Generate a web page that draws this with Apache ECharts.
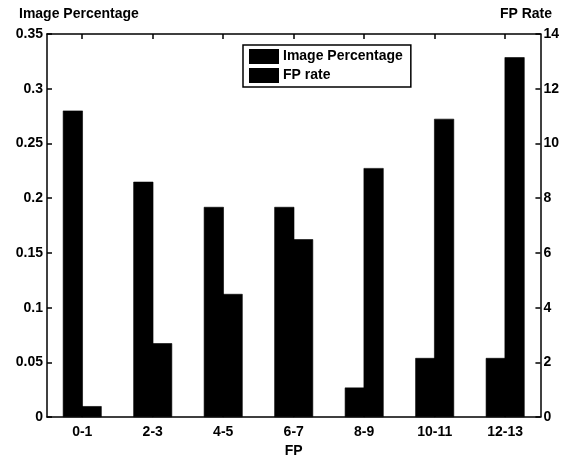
<!DOCTYPE html>
<html>
<head>
<meta charset="utf-8">
<script src="https://cdn.jsdelivr.net/npm/echarts@6/dist/echarts.min.js"></script>
<style>
  html, body { margin: 0; padding: 0; background: #fff; }
  #chart { width: 562px; height: 463px; }
</style>
</head>
<body>
<div id="chart"></div>
<script>
// FP bins along the x axis
const categories = ['0-1', '2-3', '4-5', '6-7', '8-9', '10-11', '12-13'];
// share of images falling in each bin (left axis)
const imagePercentage = [0.28, 0.215, 0.192, 0.192, 0.027, 0.054, 0.054];
// false-positive rate per bin (right axis)
const fpRate = [0.4, 2.7, 4.5, 6.5, 9.1, 10.9, 13.15];

const font = 'Liberation Sans, Arial, Helvetica, sans-serif';
const txt = { color: '#000', fontFamily: font, fontWeight: 'bold', fontSize: 14 };
const line = { onZero: false, lineStyle: { color: '#000', width: 1.5 } };
const tick = { show: true, inside: true, length: 5, lineStyle: { color: '#000', width: 1.5 } };

const chart = echarts.init(document.getElementById('chart'));
chart.setOption({
  animation: false,
  backgroundColor: '#fff',
  textStyle: { fontFamily: font },
  title: [
    { text: 'Image Percentage', left: 14, top: 2, textStyle: txt },
    { text: 'FP Rate', right: 5, top: 2, textStyle: txt }
  ],
  legend: {
    orient: 'vertical',
    left: 243,
    top: 45,
    padding: [4, 8, 4, 6],
    itemGap: 4,
    itemWidth: 28,
    itemHeight: 13,
    icon: 'rect',
    borderColor: '#000',
    borderWidth: 1.5,
    backgroundColor: '#fff',
    textStyle: txt,
    data: ['Image Percentage', 'FP rate']
  },
  grid: { left: 47, right: 18, top: 34, bottom: 40, containLabel: false },
  xAxis: [
    {
      type: 'category',
      data: categories,
      position: 'bottom',
      name: 'FP',
      nameLocation: 'middle',
      nameGap: 26,
      nameTextStyle: txt,
      axisLine: Object.assign({ show: true }, line),
      axisTick: Object.assign({ alignWithLabel: true }, tick),
      axisLabel: Object.assign({ margin: 8 }, txt),
      splitLine: { show: false }
    },
    {
      type: 'category',
      data: categories,
      position: 'top',
      axisLine: Object.assign({ show: true }, line),
      axisTick: Object.assign({ alignWithLabel: true }, tick),
      axisLabel: { show: false },
      splitLine: { show: false }
    }
  ],
  yAxis: [
    {
      type: 'value',
      min: 0,
      max: 0.35,
      interval: 0.05,
      position: 'left',
      axisLine: Object.assign({ show: true }, line),
      axisTick: tick,
      axisLabel: Object.assign({ margin: 4 }, txt),
      splitLine: { show: false }
    },
    {
      type: 'value',
      min: 0,
      max: 14,
      interval: 2,
      position: 'right',
      axisLine: Object.assign({ show: true }, line),
      axisTick: tick,
      axisLabel: Object.assign({ margin: 3 }, txt),
      splitLine: { show: false }
    }
  ],
  series: [
    {
      name: 'Image Percentage',
      type: 'bar',
      xAxisIndex: 0,
      yAxisIndex: 0,
      data: imagePercentage,
      barWidth: 20,
      barGap: '-6%',
      itemStyle: { color: '#000', borderColor: '#000', borderWidth: 0.6 }
    },
    {
      name: 'FP rate',
      type: 'bar',
      xAxisIndex: 0,
      yAxisIndex: 1,
      data: fpRate,
      barWidth: 20,
      barGap: '-6%',
      itemStyle: { color: '#000', borderColor: '#000', borderWidth: 0.6 }
    }
  ]
});
</script>
</body>
</html>
